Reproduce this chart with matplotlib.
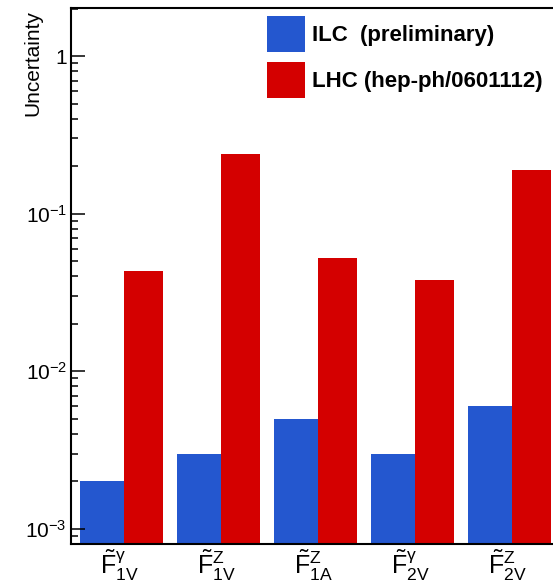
import matplotlib
matplotlib.use('Agg')
import matplotlib.pyplot as plt
import numpy as np

plt.rcParams['font.family'] = ['Liberation Sans', 'DejaVu Sans']
plt.rcParams['mathtext.fontset'] = 'custom'
plt.rcParams['mathtext.rm'] = 'Liberation Sans'
plt.rcParams['mathtext.it'] = 'Liberation Sans'
plt.rcParams['mathtext.bf'] = 'Liberation Sans:bold'

# couplings and uncertainties
labels = [r'$\tilde{F}^{\gamma}_{1V}$', r'$\tilde{F}^{Z}_{1V}$', r'$\tilde{F}^{Z}_{1A}$',
          r'$\tilde{F}^{\gamma}_{2V}$', r'$\tilde{F}^{Z}_{2V}$']
ilc = [0.002, 0.003, 0.005, 0.003, 0.006]
lhc = [0.043, 0.24, 0.052, 0.038, 0.19]
ytick_vals = [1e-3, 1e-2, 1e-1, 1]
ytick_labels = [r'$10^{-3}$', r'$10^{-2}$', r'$10^{-1}$', '1']

blue = '#2457cf'
red = '#d40000'

fig = plt.figure(figsize=(5.53, 5.84), dpi=100)
ax = fig.add_axes([71/553, 40/584, 485/553, 536/584])

x = np.arange(len(labels))
ax.bar(x + 0.093, ilc, width=0.454, align='edge', color=blue, label='ILC  (preliminary)')
ax.bar(x + 0.547, lhc, width=0.40, align='edge', color=red, label='LHC (hep-ph/0601112)')

ax.set_yscale('log')
ax.set_ylim(8e-4, 2.02)
ax.set_xlim(0, len(labels))
ax.set_yticks(ytick_vals)
ax.set_yticklabels(ytick_labels, fontsize=15)
ax.set_xticks(x + 0.5)
ax.set_xticklabels(labels, fontsize=18)
ax.tick_params(axis='x', length=0, pad=3)
ax.tick_params(axis='y', which='major', direction='in', length=10, width=1.1, pad=3)
ax.tick_params(axis='y', which='minor', direction='in', length=5, width=1.1)
for s in ax.spines.values():
    s.set_linewidth(1.5)

ax.set_ylabel('Uncertainty', fontsize=15, loc='top')
ax.yaxis.set_label_coords(-0.058, 0.996)

ax.legend(loc='upper left', bbox_to_anchor=(267/553, 1 - 16/584), bbox_transform=fig.transFigure,
          frameon=False, borderpad=0, borderaxespad=0, handlelength=1.71, handleheight=2.12,
          labelspacing=0.45, handletextpad=0.32, prop={'weight': 'bold', 'size': 16})

fig.savefig('out.png', dpi=100)
